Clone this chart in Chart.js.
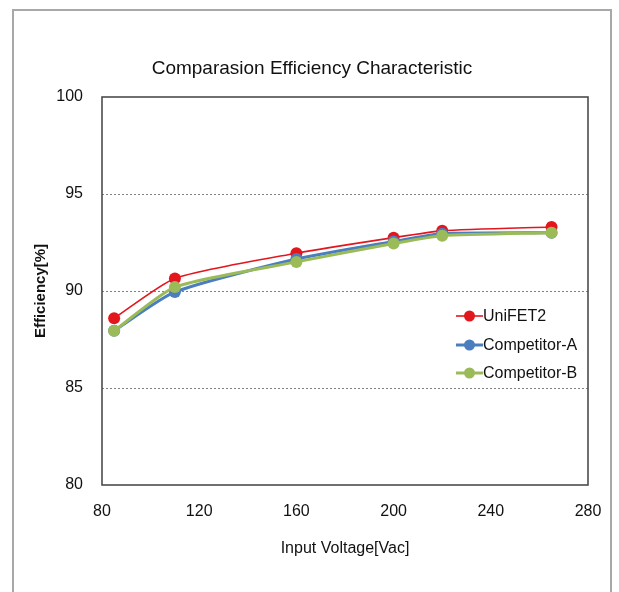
<!DOCTYPE html>
<html>
<head>
<meta charset="utf-8">
<script src="https://cdn.jsdelivr.net/npm/chart.js@4.4.1/dist/chart.umd.min.js"></script>
<style>
  html, body { margin: 0; padding: 0; background: #fff; }
  #wrap { position: relative; width: 619px; height: 592px; overflow: hidden; }
  #frame { position: absolute; left: 12px; top: 9px; width: 596px; height: 640px; border: 2px solid #a8a8a8; }
  canvas { position: absolute; left: 0; top: 0; }
</style>
</head>
<body>
<div id="wrap">
  <div id="frame"></div>
  <canvas id="c" width="619" height="592"></canvas>
</div>
<script>
const titleText = "Comparasion Efficiency Characteristic";
const xTitle = "Input Voltage[Vac]";
const yTitle = "Efficiency[%]";
const voltages = [85, 110, 160, 200, 220, 265];
const seriesNames = ["UniFET2", "Competitor-A", "Competitor-B"];
const unifet2 = [88.6, 90.65, 91.95, 92.75, 93.1, 93.3];
const competitorA = [87.95, 89.95, 91.65, 92.55, 92.95, 93.0];
const competitorB = [87.95, 90.2, 91.5, 92.45, 92.85, 93.0];
const xMin = 80, xMax = 280, xStep = 40;
const yMin = 80, yMax = 100, yStep = 5;

const colors = ["#e3161e", "#4a7ebf", "#9bbb59"];
const widths = [1.6, 3, 3];
const FONT = "'Liberation Sans', Arial, sans-serif";

function pts(vals) { return voltages.map((v, i) => ({x: v, y: vals[i]})); }
const allVals = [unifet2, competitorA, competitorB];

const datasets = allVals.map((vals, i) => ({
  label: seriesNames[i],
  data: pts(vals),
  borderColor: colors[i],
  backgroundColor: colors[i],
  borderWidth: widths[i],
  pointRadius: 6,
  pointHoverRadius: 6,
  pointBorderWidth: 0,
  tension: 0.2,
  order: 3 - i
}));

const titleCenter = {
  id: 'titleCenter',
  afterLayout(chart) {
    const t = chart.titleBlock;
    if (t) { t.left = 18; t.right = 606; t.width = 588; }
  }
};

const frameBox = {
  id: 'frameBox',
  afterDatasetsDraw(chart) {
    const {ctx, chartArea: a} = chart;
    ctx.save();
    ctx.strokeStyle = '#4d4d4d';
    ctx.lineWidth = 1.6;
    ctx.strokeRect(a.left, a.top, a.right - a.left, a.bottom - a.top);
    ctx.restore();
  }
};

const innerLegend = {
  id: 'innerLegend',
  afterDraw(chart) {
    const ctx = chart.ctx;
    const ys = [316, 345, 373];
    ctx.save();
    seriesNames.forEach((name, i) => {
      const y = ys[i];
      ctx.strokeStyle = colors[i];
      ctx.lineWidth = widths[i];
      ctx.beginPath();
      ctx.moveTo(456, y); ctx.lineTo(483, y); ctx.stroke();
      ctx.fillStyle = colors[i];
      ctx.beginPath(); ctx.arc(469.5, y, 5.5, 0, Math.PI * 2); ctx.fill();
      ctx.fillStyle = '#111';
      ctx.font = "16px " + FONT;
      ctx.textBaseline = 'middle';
      ctx.textAlign = 'left';
      ctx.fillText(name, 483, y + 1);
    });
    ctx.restore();
  }
};

new Chart(document.getElementById('c'), {
  type: 'line',
  data: { datasets },
  options: {
    responsive: false,
    animation: false,
    events: [],
    layout: { padding: { left: 0, right: 31, top: 0, bottom: 0 } },
    plugins: {
      legend: { display: false },
      tooltip: { enabled: false },
      title: {
        display: true,
        text: titleText,
        color: '#111',
        font: { family: FONT, size: 19, weight: 'normal', lineHeight: 1.2 },
        padding: { top: 57, bottom: 17.2 }
      }
    },
    scales: {
      x: {
        type: 'linear',
        min: xMin, max: xMax,
        afterFit(s) { s.height = 107; },
        ticks: { stepSize: xStep, color: '#111', padding: 17, font: { family: FONT, size: 16 } },
        grid: { display: false, drawTicks: false },
        border: { display: false },
        title: { display: true, text: xTitle, color: '#111', font: { family: FONT, size: 16, weight: 'normal', lineHeight: 1.2 }, padding: { top: 0, bottom: 34 } }
      },
      y: {
        type: 'linear',
        min: yMin, max: yMax,
        afterFit(s) { s.width = 102; },
        ticks: { stepSize: yStep, color: '#111', padding: 19, font: { family: FONT, size: 16 } },
        grid: {
          drawTicks: false,
          color: (c) => (c.tick && (c.tick.value === yMin || c.tick.value === yMax)) ? 'rgba(0,0,0,0)' : '#808080',
          lineWidth: 1
        },
        border: { display: false, dash: [2, 2] },
        title: { display: true, text: yTitle, color: '#111', font: { family: FONT, size: 15, weight: 'bold', lineHeight: 1.2 }, padding: { top: 32, bottom: 0 } }
      }
    }
  },
  plugins: [titleCenter, frameBox, innerLegend]
});
</script>
</body>
</html>
